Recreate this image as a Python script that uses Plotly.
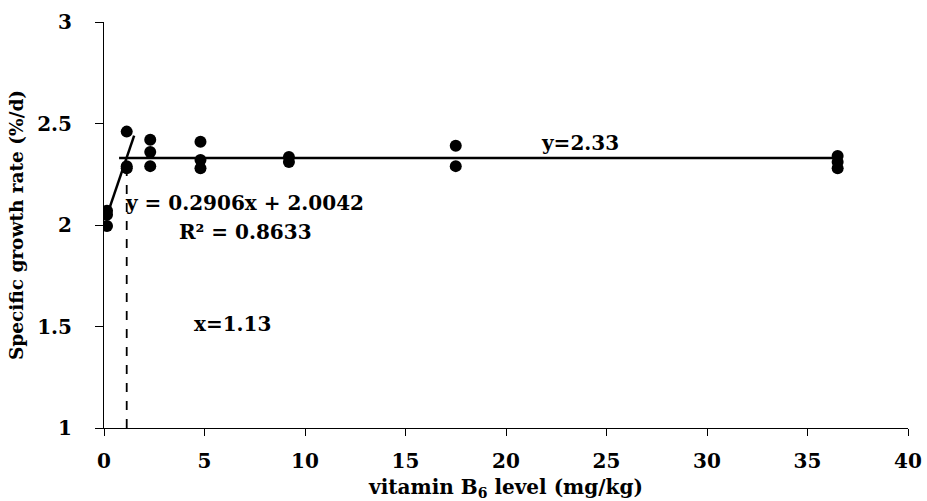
import plotly.graph_objects as go

# Data
x_level = [0.15, 0.15, 0.15, 1.13, 1.13, 1.13, 2.3, 2.3, 2.3, 4.8, 4.8, 4.8,
           9.2, 9.2, 17.5, 17.5, 36.5, 36.5, 36.5]
sgr = [2.07, 2.05, 1.995, 2.46, 2.29, 2.28, 2.42, 2.36, 2.29, 2.41, 2.32, 2.28,
       2.335, 2.31, 2.39, 2.29, 2.34, 2.31, 2.28]

slope = 0.2906
intercept = 2.0042
reg_x = [0.15, 1.5]
plateau_y = 2.33
plateau_x = [0.75, 36.5]
break_x = 1.13

x_ticks = [0, 5, 10, 15, 20, 25, 30, 35, 40]
y_ticks = [1, 1.5, 2, 2.5, 3]
y_tick_text = ["1", "1.5", "2", "2.5", "3"]

font_family = "DejaVu Serif"

fig = go.Figure()

fig.add_trace(go.Scatter(
    x=reg_x, y=[slope * v + intercept for v in reg_x], mode="lines",
    line=dict(color="black", width=2.5), showlegend=False, hoverinfo="skip"))
fig.add_trace(go.Scatter(
    x=plateau_x, y=[plateau_y, plateau_y], mode="lines",
    line=dict(color="black", width=2.5), showlegend=False, hoverinfo="skip"))
fig.add_trace(go.Scatter(
    x=[break_x, break_x], y=[1, plateau_y], mode="lines",
    line=dict(color="black", width=1.8, dash="dash"), showlegend=False, hoverinfo="skip"))
fig.add_trace(go.Scatter(
    x=x_level, y=sgr, mode="markers",
    marker=dict(color="black", size=12), showlegend=False))

ann_font = dict(family=font_family, size=20, color="black", weight="bold")
fig.add_annotation(x=23.7, y=2.404, text="y=2.33", showarrow=False, font=ann_font)
fig.add_annotation(x=6.97, y=2.108, text="y = 0.2906x + 2.0042", showarrow=False, font=ann_font)
fig.add_annotation(x=7.06, y=1.966, text="R² = 0.8633", showarrow=False, font=ann_font)
fig.add_annotation(x=6.4, y=1.51, text="x=1.13", showarrow=False, font=ann_font)

tick_font = dict(family=font_family, size=20, color="black", weight="bold")

fig.update_layout(
    width=927, height=501,
    margin=dict(l=104, r=19, t=22, b=73),
    plot_bgcolor="white", paper_bgcolor="white",
    font=dict(family=font_family, color="black"),
    xaxis=dict(
        range=[0, 40], tickvals=x_ticks, ticktext=[str(t) for t in x_ticks],
        ticks="outside", ticklen=7, ticklabelstandoff=8, automargin=False,
        tickcolor="black", showline=True, linecolor="black", linewidth=1,
        showgrid=False, zeroline=False, tickfont=tick_font,
        title=dict(text="vitamin B<sub>6</sub> level (mg/kg)", standoff=12,
                   font=dict(family=font_family, size=20, color="black", weight="bold")),
    ),
    yaxis=dict(
        range=[1, 3], tickvals=y_ticks, ticktext=y_tick_text,
        ticks="outside", ticklen=8, ticklabelstandoff=19, tickcolor="black",
        showline=True, linecolor="black", linewidth=1, showgrid=False,
        zeroline=False, tickfont=tick_font, automargin=False,
        title=dict(text="Specific growth rate (%/d)", standoff=8,
                   font=dict(family=font_family, size=18.5, color="black", weight="bold")),
    ),
)

fig.write_html("out.html")
